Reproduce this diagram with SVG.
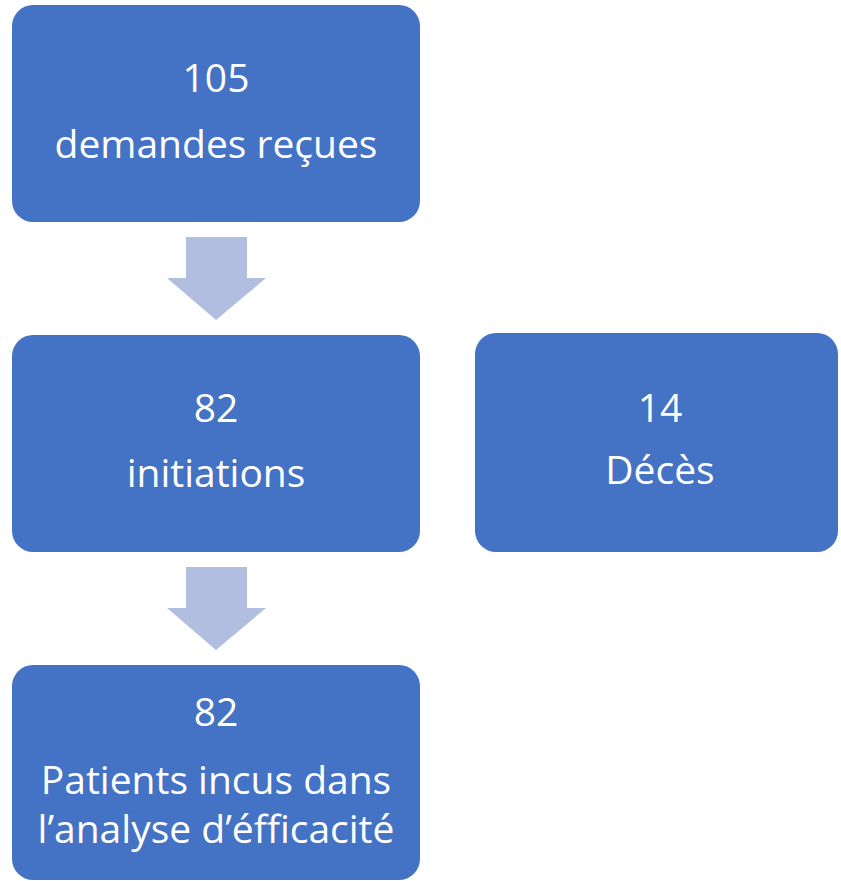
<svg xmlns="http://www.w3.org/2000/svg" width="841" height="881" viewBox="0 0 841 881">
<style>
.box{fill:#4472C4;}
.arrow{fill:#B1BEE0;}
.t{font-family:"Open Sans","Noto Sans",sans-serif;font-size:39px;fill:#FFFFFF;text-anchor:middle;}
</style>
<rect width="841" height="881" fill="#FFFFFF"/>
<g id="connectors">
<polygon class="arrow" points="186,237 247,237 247,278 266,278 216,320 167,278 186,278"/>
<polygon class="arrow" points="186,567 247,567 247,608 266,608 216,650 167,608 186,608"/>
</g>
<g id="node-demandes">
<rect class="box" x="12" y="5" width="408" height="217" rx="21"/>
<text class="t" x="216" y="92">105</text>
<text class="t" x="216" y="158">demandes reçues</text>
</g>
<g id="node-initiations">
<rect class="box" x="12" y="335" width="408" height="217" rx="21"/>
<text class="t" x="216" y="422">82</text>
<text class="t" x="216" y="487">initiations</text>
</g>
<g id="node-deces">
<rect class="box" x="475" y="333" width="363" height="219" rx="21"/>
<text class="t" x="660" y="422">14</text>
<text class="t" x="660" y="484">Décès</text>
</g>
<g id="node-analyse">
<rect class="box" x="12" y="665" width="408" height="215" rx="21"/>
<text class="t" x="216" y="726">82</text>
<text class="t" x="216" y="794">Patients incus dans</text>
<text class="t" x="216" y="843">l’analyse d’éfficacité</text>
</g>
</svg>
